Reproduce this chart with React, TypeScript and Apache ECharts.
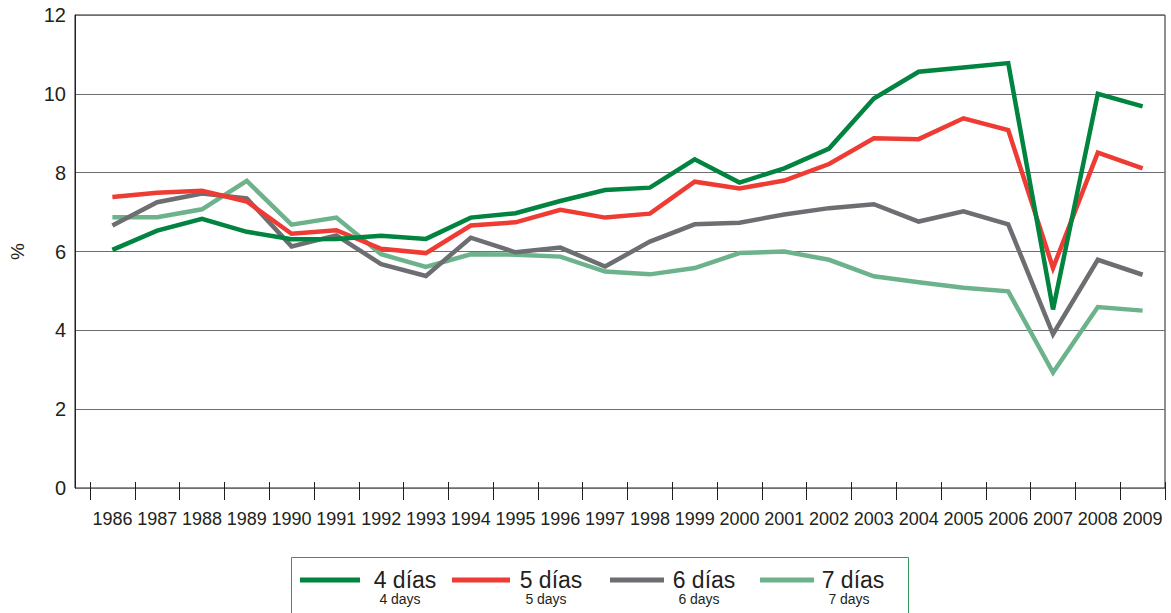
import React, { useEffect, useRef } from "react";
import * as echarts from "echarts";

const years = ["1986","1987","1988","1989","1990","1991","1992","1993","1994","1995","1996","1997","1998","1999","2000","2001","2002","2003","2004","2005","2006","2007","2008","2009"];
const dias4 = [6.04, 6.53, 6.83, 6.5, 6.31, 6.32, 6.4, 6.32, 6.86, 6.97, 7.28, 7.56, 7.62, 8.34, 7.75, 8.11, 8.61, 9.88, 10.56, 10.67, 10.78, 4.53, 10.0, 9.68];
const dias5 = [7.38, 7.49, 7.54, 7.27, 6.45, 6.54, 6.07, 5.96, 6.66, 6.74, 7.06, 6.86, 6.96, 7.77, 7.6, 7.8, 8.22, 8.87, 8.85, 9.38, 9.08, 5.58, 8.51, 8.11];
const dias6 = [6.66, 7.25, 7.47, 7.35, 6.13, 6.41, 5.68, 5.38, 6.35, 5.98, 6.1, 5.62, 6.25, 6.69, 6.73, 6.94, 7.1, 7.2, 6.76, 7.02, 6.69, 3.9, 5.79, 5.41];
const dias7 = [6.87, 6.87, 7.07, 7.79, 6.68, 6.86, 5.93, 5.61, 5.93, 5.92, 5.87, 5.49, 5.42, 5.58, 5.96, 6.0, 5.79, 5.37, 5.22, 5.08, 4.99, 2.93, 4.59, 4.5];

const seriesNames = ["4 días", "5 días", "6 días", "7 días"];
const seriesSub = ["4 days", "5 days", "6 days", "7 days"];
const colors = ["#00843f", "#ee3b33", "#6d6e71", "#6cb38c"];
const dataSets = [dias4, dias5, dias6, dias7];

const DARK = "#231f20";
const FONT = "'Liberation Sans', Arial, sans-serif";
const NARROW = "'Liberation Sans Narrow', 'Arial Narrow', 'Liberation Sans', sans-serif";

export default function App() {
  const ref = useRef<HTMLDivElement>(null);
  useEffect(() => {
    if (!ref.current) return;
    const chart = echarts.init(ref.current, null, { renderer: "svg" });
    // legend layout (graphic)
    const legendLines = [[300, 360], [452, 510], [610, 664], [760, 814]];
    const legendText = [405, 551, 704, 853];
    const legendSubText = [400, 546, 699, 849];
    const graphics: any[] = [
      {
        type: "rect",
        shape: { x: 291.5, y: 557.5, width: 617, height: 70 },
        style: { fill: "#fff", stroke: "#2e9a5c", lineWidth: 1 },
      },
    ];
    seriesNames.forEach((n, i) => {
      graphics.push({
        type: "line",
        shape: { x1: legendLines[i][0], y1: 580, x2: legendLines[i][1], y2: 580 },
        style: { stroke: colors[i], lineWidth: 5 },
      });
      graphics.push({
        type: "text",
        x: legendText[i],
        y: 580,
        style: { text: n, fontSize: 23, fontFamily: FONT, fill: DARK, textAlign: "center", textVerticalAlign: "middle" },
      });
      graphics.push({
        type: "text",
        x: legendSubText[i],
        y: 599,
        style: { text: seriesSub[i], fontSize: 14, fontFamily: FONT, fill: DARK, textAlign: "center", textVerticalAlign: "middle" },
      });
    });

    chart.setOption({
      animation: false,
      backgroundColor: "#fff",
      grid: [
        { left: 63, right: 6, top: 15, bottom: 125, show: true, borderColor: DARK, borderWidth: 1, backgroundColor: "transparent" },
        { left: 90, right: 6, top: 15, bottom: 125 },
      ],
      xAxis: [
        { gridIndex: 0, type: "value", min: 0, max: 1, show: false },
        {
          gridIndex: 1,
          type: "category",
          data: years,
          boundaryGap: true,
          axisLine: { show: false },
          axisTick: { show: true, interval: 0, length: 12, lineStyle: { color: DARK, width: 1 } },
          axisLabel: { interval: 0, fontSize: 18, fontFamily: NARROW, color: DARK, margin: 22 },
        },
        {
          gridIndex: 1,
          type: "category",
          data: years,
          position: "bottom",
          boundaryGap: true,
          axisLine: { show: false },
          axisTick: { show: true, inside: true, interval: 0, length: 6, lineStyle: { color: DARK, width: 1 } },
          axisLabel: { show: false },
        },
      ],
      yAxis: [
        {
          gridIndex: 0,
          type: "value",
          min: 0,
          max: 12,
          interval: 2,
          name: "%",
          nameLocation: "middle",
          nameRotate: 90,
          nameGap: 48,
          nameTextStyle: { fontSize: 19, fontFamily: FONT, color: DARK },
          axisLine: { show: true, lineStyle: { color: DARK, width: 1 } },
          axisTick: { show: false },
          axisLabel: { fontSize: 20, fontFamily: FONT, color: DARK, margin: 9 },
          splitLine: { show: true, lineStyle: { color: "#6d6e71", width: 1 } },
        },
        { gridIndex: 1, type: "value", min: 0, max: 12, show: false },
      ],
      series: dataSets.map((d, i) => ({
        name: seriesNames[i],
        type: "line",
        xAxisIndex: 1,
        yAxisIndex: 1,
        data: d,
        showSymbol: false,
        symbol: "none",
        lineStyle: { color: colors[i], width: 4.5, join: "miter" },
        itemStyle: { color: colors[i] },
        z: 10 - i,
      })),
      graphic: graphics,
    });
    return () => chart.dispose();
  }, []);
  return <div ref={ref} style={{ position: "fixed", left: 0, top: 0, width: 1171, height: 613 }} />;
}
